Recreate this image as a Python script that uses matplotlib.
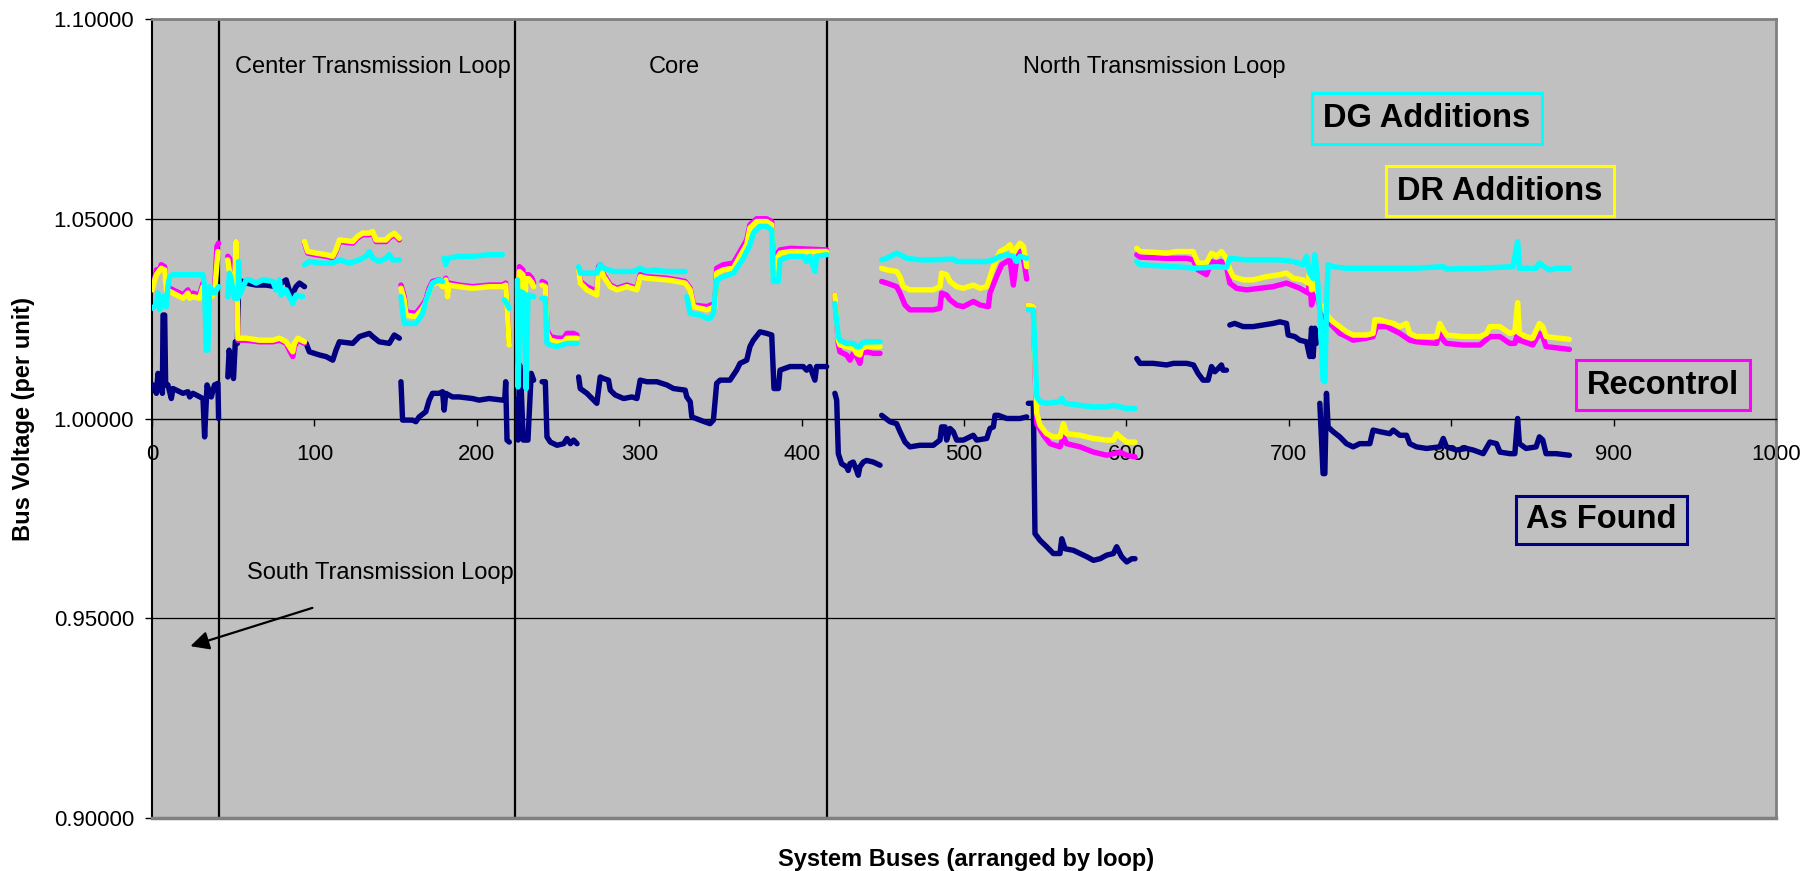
import numpy as np
import matplotlib
matplotlib.use("Agg")
import matplotlib.pyplot as plt
from matplotlib.patches import Rectangle

GAP = None

# ---------------- data (bus index, voltage p.u.) ----------------
as_found = [
    (0.6,1.0084),(2.7,1.0063),(3.7,1.0113),(4.7,1.0088),(5.7,1.0096),(6.4,1.0063),(6.8,1.0259),(7.8,1.0259),
    (8.4,1.0084),(9.8,1.0084),(11.9,1.0050),(12.9,1.0075),(17.0,1.0067),(19.1,1.0063),(22.1,1.0067),(23.2,1.0054),
    (25.2,1.0063),(31.4,1.0050),(32.4,0.9954),(33.9,1.0084),(36.5,1.0054),(38.5,1.0084),(40.6,1.0088),(41.0,1.0000),
    GAP,
    (46.7,1.0104),(47.5,1.0171),(50.2,1.0100),(51.3,1.0192),(52.6,1.0188),(53.3,1.0347),(58.0,1.0339),(64.1,1.0334),
    (70.3,1.0334),(76.4,1.0330),(82.6,1.0347),(85.7,1.0305),(88.7,1.0330),(90.8,1.0339),(93.9,1.0330),
    GAP,
    (94.9,1.0188),(96.9,1.0167),(103.1,1.0159),(107.2,1.0155),(111.3,1.0146),(113.3,1.0171),(115.4,1.0192),
    (123.6,1.0188),(127.7,1.0205),(133.8,1.0213),(135.9,1.0205),(139.9,1.0192),(146.1,1.0188),(149.2,1.0209),(152.3,1.0201),
    GAP,
    (153.3,1.0092),(154.3,0.9996),(160.5,0.9996),(162.5,0.9992),(164.5,1.0004),(168.6,1.0017),(170.7,1.0046),
    (172.7,1.0063),(176.8,1.0063),(178.9,1.0067),(179.9,1.0021),(180.9,1.0063),(185.0,1.0054),(189.1,1.0054),
    (197.3,1.0050),(201.4,1.0046),(207.6,1.0050),(215.8,1.0046),(217.2,1.0046),(217.8,1.0092),(218.6,0.9946),(220.0,0.9941),
    GAP,
    (225.0,1.0046),(225.4,0.9946),(226.4,1.0134),(227.3,1.0079),(228.6,0.9946),(231.5,0.9946),(233.5,1.0113),(235.0,1.0096),
    GAP,
    (240.2,1.0092),(242.2,1.0092),(243.2,0.9954),(245.3,0.9941),(249.4,0.9933),(253.5,0.9937),(255.5,0.9950),
    (257.6,0.9937),(259.6,0.9946),(261.7,0.9937),
    GAP,
    (262.7,1.0104),(263.7,1.0075),(267.8,1.0063),(271.9,1.0046),(273.9,1.0038),(276.0,1.0104),(278.1,1.0100),
    (281.1,1.0096),(282.2,1.0071),(285.2,1.0059),(290.4,1.0050),(295.5,1.0054),(298.6,1.0050),(300.6,1.0096),
    (304.7,1.0092),(310.9,1.0092),(317.0,1.0084),(321.1,1.0075),(328.3,1.0071),(329.3,1.0054),(331.4,1.0042),
    (332.4,1.0004),(337.5,0.9996),(343.6,0.9987),(345.7,0.9996),(347.7,1.0088),(349.8,1.0096),(355.9,1.0096),
    (360.0,1.0121),(362.1,1.0138),(366.2,1.0146),(368.2,1.0180),(370.3,1.0196),(374.4,1.0217),(378.5,1.0213),
    (381.6,1.0209),(383.0,1.0075),(385.7,1.0075),(386.7,1.0121),(392.8,1.0130),(401.0,1.0130),(403.1,1.0121),
    (405.1,1.0130),(408.2,1.0096),(409.2,1.0130),(415.4,1.0130),
    GAP,
    (420.5,1.0063),(421.6,1.0046),(422.6,0.9912),(424.6,0.9887),(427.7,0.9879),(428.7,0.9870),(429.8,0.9887),
    (431.8,0.9891),(433.9,0.9870),(434.9,0.9858),(435.9,0.9879),(438.0,0.9891),(440.0,0.9895),(444.1,0.9891),(448.3,0.9883),
    GAP,
    (449.3,1.0008),(454.4,0.9992),(458.5,0.9987),(460.6,0.9967),(463.7,0.9941),(466.7,0.9929),(472.9,0.9933),
    (481.1,0.9933),(485.2,0.9946),(486.2,0.9979),(488.3,0.9979),(489.3,0.9946),(491.4,0.9975),(493.4,0.9967),
    (495.5,0.9946),(499.6,0.9946),(503.7,0.9954),(505.7,0.9958),(507.8,0.9946),(514.0,0.9950),(516.0,0.9975),
    (518.1,0.9979),(519.1,1.0008),(521.1,1.0008),(526.3,1.0000),(534.5,1.0000),(538.6,1.0004),
    GAP,
    (539.6,1.0038),(542.7,1.0038),(543.7,0.9712),(546.8,0.9695),(550.9,0.9679),(555.0,0.9662),(559.1,0.9662),
    (560.2,0.9699),(562.2,0.9674),(567.4,0.9670),(575.6,0.9654),(579.7,0.9645),(583.8,0.9649),(587.9,0.9658),
    (592.0,0.9662),(594.0,0.9679),(597.1,0.9654),(600.2,0.9641),(603.3,0.9649),(605.3,0.9649),
    GAP,
    (606.4,1.0150),(608.4,1.0138),(616.6,1.0138),(624.8,1.0134),(629.0,1.0138),(637.2,1.0138),(641.3,1.0134),
    (644.1,1.0113),(647.2,1.0096),(650.3,1.0096),(652.4,1.0130),(654.4,1.0117),(656.5,1.0125),(658.5,1.0134),
    (659.5,1.0121),(661.6,1.0121),
    GAP,
    (663.7,1.0234),(666.7,1.0238),(671.9,1.0230),(678.0,1.0230),(684.2,1.0234),(690.3,1.0238),(694.5,1.0242),
    (698.6,1.0238),(699.6,1.0209),(703.7,1.0205),(706.8,1.0196),(710.9,1.0192),(712.9,1.0155),(714.0,1.0226),
    (715.0,1.0155),(716.0,1.0226),(717.0,1.0188),
    GAP,
    (719.1,1.0038),(721.1,0.9862),(722.2,0.9862),(723.2,1.0063),(724.2,0.9979),(727.3,0.9967),(731.4,0.9954),
    (735.5,0.9937),(739.6,0.9929),(743.7,0.9937),(749.9,0.9937),(751.9,0.9971),(756.1,0.9967),(762.2,0.9962),
    (764.3,0.9971),(768.4,0.9958),(772.5,0.9958),(774.5,0.9937),(778.6,0.9929),(784.8,0.9925),(793.0,0.9929),
    (795.1,0.9950),(797.1,0.9929),(803.3,0.9921),(809.4,0.9925),(813.6,0.9921),(819.7,0.9912),(823.8,0.9941),
    (827.9,0.9937),(830.0,0.9916),(836.1,0.9912),(839.2,0.9912),(840.9,1.0000),(842.0,0.9937),(846.1,0.9925),
    (852.3,0.9929),(854.3,0.9954),(856.4,0.9946),(858.4,0.9912),(864.6,0.9912),(872.8,0.9908),
]

recontrol = [
    (0.0,1.0330),(1.6,1.0347),(2.7,1.0372),(4.7,1.0372),(5.7,1.0385),(7.8,1.0380),(8.8,1.0330),(10.9,1.0326),
    (12.9,1.0322),(17.0,1.0314),(19.1,1.0309),(22.1,1.0322),(23.2,1.0309),(25.2,1.0314),(29.3,1.0309),(31.4,1.0339),
    (33.4,1.0322),(36.5,1.0314),(38.5,1.0322),(40.0,1.0431),(41.0,1.0439),
    GAP,
    (46.7,1.0406),(47.7,1.0401),(48.8,1.0380),(49.8,1.0330),(50.8,1.0330),(51.8,1.0443),(52.9,1.0196),(58.0,1.0196),
    (66.2,1.0192),(74.4,1.0192),(78.5,1.0196),(82.6,1.0188),(84.6,1.0171),(86.7,1.0155),(87.7,1.0180),(89.8,1.0196),(93.9,1.0188),
    GAP,
    (93.9,1.0439),(95.9,1.0414),(101.0,1.0410),(107.2,1.0406),(111.3,1.0402),(113.3,1.0418),(115.4,1.0443),
    (123.6,1.0439),(126.6,1.0452),(129.7,1.0460),(133.8,1.0460),(135.9,1.0464),(137.9,1.0443),(144.1,1.0443),
    (146.1,1.0452),(149.2,1.0460),(152.3,1.0447),
    GAP,
    (153.3,1.0334),(155.3,1.0305),(156.4,1.0267),(162.5,1.0263),(166.6,1.0284),(168.6,1.0297),(170.7,1.0326),
    (172.7,1.0343),(176.8,1.0347),(178.9,1.0334),(180.9,1.0351),(182.0,1.0309),(183.0,1.0339),(189.1,1.0334),
    (197.3,1.0330),(207.6,1.0334),(215.8,1.0334),(217.8,1.0339),(218.9,1.0263),(219.9,1.0188),
    GAP,
    (225.5,1.0309),(226.2,1.0380),(228.4,1.0372),(229.4,1.0301),(230.4,1.0360),(232.0,1.0360),(234.0,1.0351),(235.0,1.0339),
    GAP,
    (240.2,1.0343),(242.2,1.0339),(243.2,1.0222),(245.3,1.0205),(249.4,1.0201),(253.5,1.0201),(255.5,1.0213),
    (259.6,1.0213),(261.7,1.0209),
    GAP,
    (262.7,1.0376),(263.7,1.0343),(267.8,1.0330),(273.9,1.0318),(275.0,1.0380),(276.0,1.0385),(278.1,1.0360),
    (282.2,1.0334),(286.3,1.0326),(292.4,1.0334),(298.6,1.0326),(300.6,1.0360),(304.7,1.0355),(317.0,1.0351),
    (323.2,1.0347),(328.3,1.0343),(331.4,1.0326),(333.4,1.0284),(341.6,1.0280),(346.7,1.0288),(347.7,1.0376),
    (351.8,1.0385),(358.0,1.0389),(362.1,1.0418),(366.2,1.0447),(368.2,1.0485),(372.3,1.0500),(378.5,1.0500),
    (381.6,1.0493),(382.6,1.0364),(384.6,1.0410),(386.7,1.0422),(392.8,1.0426),(415.4,1.0422),
    GAP,
    (420.5,1.0309),(422.6,1.0188),(423.6,1.0167),(427.7,1.0159),(429.8,1.0146),(431.8,1.0163),(433.9,1.0155),
    (435.9,1.0138),(437.0,1.0163),(440.0,1.0167),(444.1,1.0163),(448.3,1.0163),
    GAP,
    (449.3,1.0343),(452.4,1.0339),(458.5,1.0330),(460.6,1.0314),(463.7,1.0284),(466.7,1.0272),(481.1,1.0272),
    (485.2,1.0276),(486.2,1.0314),(489.3,1.0309),(491.4,1.0297),(495.5,1.0284),(499.6,1.0280),(505.7,1.0293),
    (509.9,1.0284),(515.0,1.0280),(516.0,1.0314),(520.1,1.0356),(523.2,1.0385),(526.3,1.0393),(528.3,1.0397),
    (530.4,1.0334),(532.4,1.0397),(534.5,1.0418),(536.6,1.0401),(538.6,1.0349),
    GAP,
    (539.6,1.0284),(542.7,1.0280),(544.8,0.9987),(548.9,0.9958),(553.0,0.9937),(559.1,0.9929),(561.2,0.9954),
    (563.2,0.9937),(571.5,0.9929),(579.7,0.9916),(587.9,0.9908),(596.1,0.9916),(600.2,0.9908),(605.3,0.9904),
    GAP,
    (606.4,1.0410),(608.4,1.0404),(624.8,1.0401),(637.2,1.0401),(641.1,1.0397),(644.1,1.0372),(649.3,1.0360),
    (652.4,1.0393),(655.4,1.0389),(658.5,1.0393),(661.6,1.0380),(663.7,1.0339),(667.8,1.0326),(673.9,1.0322),
    (682.1,1.0326),(690.3,1.0330),(698.6,1.0339),(706.8,1.0326),(711.9,1.0314),(712.9,1.0347),(714.0,1.0284),
    (716.0,1.0314),(718.1,1.0297),
    (719.1,1.0280),(720.1,1.0280),(723.2,1.0247),(727.3,1.0230),(731.4,1.0213),(735.5,1.0205),(739.6,1.0196),
    (747.8,1.0201),(751.9,1.0205),(754.0,1.0230),(760.2,1.0230),(768.4,1.0213),(774.5,1.0196),(778.6,1.0192),
    (791.0,1.0188),(793.0,1.0217),(795.1,1.0196),(797.1,1.0188),(807.4,1.0184),(817.7,1.0184),(823.8,1.0205),
    (830.0,1.0205),(836.1,1.0188),(839.2,1.0188),(840.9,1.0213),(842.0,1.0196),(850.2,1.0184),(854.3,1.0213),
    (856.4,1.0205),(858.4,1.0180),(866.7,1.0176),(872.8,1.0173),
]

dr_additions = [
    (0.0,1.0322),(2.7,1.0360),(5.7,1.0376),(7.8,1.0372),(8.8,1.0322),(12.9,1.0314),(19.1,1.0301),(22.1,1.0314),
    (23.2,1.0301),(25.2,1.0305),(29.3,1.0301),(31.4,1.0330),(33.4,1.0314),(36.5,1.0305),(38.5,1.0314),(40.6,1.0418),
    GAP,
    (46.7,1.0397),(47.7,1.0368),(48.8,1.0347),(49.8,1.0322),(50.8,1.0322),(51.8,1.0443),(52.9,1.0201),(58.0,1.0201),
    (66.2,1.0196),(74.4,1.0196),(78.5,1.0201),(82.6,1.0192),(84.6,1.0180),(86.7,1.0167),(87.7,1.0188),(89.8,1.0201),(93.9,1.0192),
    GAP,
    (93.9,1.0443),(95.9,1.0418),(101.0,1.0414),(107.2,1.0410),(111.3,1.0406),(113.3,1.0422),(115.4,1.0447),
    (123.6,1.0443),(126.6,1.0456),(129.7,1.0464),(133.8,1.0464),(135.9,1.0468),(137.9,1.0447),(144.1,1.0447),
    (146.1,1.0456),(149.2,1.0464),(152.3,1.0451),
    GAP,
    (153.3,1.0326),(155.3,1.0297),(156.4,1.0259),(162.5,1.0255),(166.6,1.0276),(168.6,1.0290),(170.7,1.0318),
    (172.7,1.0336),(176.8,1.0342),(178.9,1.0330),(180.9,1.0347),(182.0,1.0305),(183.0,1.0334),(189.1,1.0330),
    (197.3,1.0326),(207.6,1.0330),(215.8,1.0330),(217.8,1.0334),(218.9,1.0259),(219.9,1.0184),
    GAP,
    (225.5,1.0300),(226.2,1.0368),(228.4,1.0360),(229.4,1.0290),(230.4,1.0350),(232.0,1.0350),(234.0,1.0340),(235.0,1.0330),
    GAP,
    (240.2,1.0334),(242.2,1.0330),(243.2,1.0213),(245.3,1.0196),(249.4,1.0192),(253.5,1.0192),(255.5,1.0201),
    (259.6,1.0201),(261.7,1.0201),
    GAP,
    (262.7,1.0372),(263.7,1.0339),(267.8,1.0322),(273.9,1.0309),(275.0,1.0372),(276.0,1.0380),(278.1,1.0355),
    (282.2,1.0330),(286.3,1.0322),(292.4,1.0330),(298.6,1.0322),(300.6,1.0355),(304.7,1.0351),(317.0,1.0347),
    (323.2,1.0343),(328.3,1.0339),(331.4,1.0322),(333.4,1.0280),(341.6,1.0272),(346.7,1.0280),(347.7,1.0364),
    (351.8,1.0372),(358.0,1.0376),(362.1,1.0406),(366.2,1.0435),(368.2,1.0477),(372.3,1.0493),(378.5,1.0493),
    (381.6,1.0485),(382.6,1.0355),(384.6,1.0397),(386.7,1.0414),(392.8,1.0418),(415.4,1.0418),
    GAP,
    (420.5,1.0309),(422.6,1.0196),(423.6,1.0184),(427.7,1.0180),(431.8,1.0176),(433.9,1.0163),(435.9,1.0159),
    (437.0,1.0176),(440.0,1.0180),(448.3,1.0180),
    GAP,
    (449.3,1.0376),(452.4,1.0372),(458.5,1.0368),(460.6,1.0355),(462.6,1.0330),(466.7,1.0322),(481.1,1.0322),
    (485.2,1.0330),(486.2,1.0364),(489.3,1.0360),(491.4,1.0343),(495.5,1.0330),(499.6,1.0326),(505.7,1.0334),
    (509.9,1.0326),(514.0,1.0330),(518.1,1.0380),(522.2,1.0418),(526.3,1.0427),(528.3,1.0435),(530.4,1.0414),
    (532.4,1.0427),(534.5,1.0439),(536.6,1.0431),(538.6,1.0380),
    GAP,
    (539.6,1.0284),(542.7,1.0280),(544.8,1.0013),(546.8,0.9983),(550.9,0.9962),(555.0,0.9954),(559.1,0.9954),
    (561.2,0.9987),(563.2,0.9962),(571.5,0.9958),(579.7,0.9950),(587.9,0.9946),(592.0,0.9946),(594.0,0.9962),
    (596.1,0.9954),(600.2,0.9941),(605.3,0.9941),
    GAP,
    (606.4,1.0426),(608.4,1.0418),(616.6,1.0416),(624.8,1.0414),(631.0,1.0418),(641.1,1.0418),(644.1,1.0389),
    (649.3,1.0389),(652.4,1.0414),(655.4,1.0406),(658.5,1.0418),(661.6,1.0401),(663.7,1.0372),(665.7,1.0355),
    (671.9,1.0347),(678.0,1.0347),(686.2,1.0355),(694.5,1.0360),(698.6,1.0364),(702.7,1.0351),(708.8,1.0347),
    (711.9,1.0339),(712.9,1.0372),(714.0,1.0322),(715.0,1.0347),(716.0,1.0330),(718.1,1.0314),
    (719.1,1.0284),(721.1,1.0280),(723.2,1.0263),(724.2,1.0255),(727.3,1.0242),(731.4,1.0230),(735.5,1.0217),
    (739.6,1.0209),(747.8,1.0209),(751.9,1.0213),(753.0,1.0247),(756.1,1.0247),(760.2,1.0242),(764.3,1.0238),
    (768.4,1.0230),(772.5,1.0238),(774.5,1.0213),(778.6,1.0205),(791.0,1.0205),(793.0,1.0238),(795.1,1.0222),
    (797.1,1.0209),(807.4,1.0205),(817.7,1.0205),(821.8,1.0213),(823.8,1.0230),(830.0,1.0230),(836.1,1.0213),
    (839.2,1.0217),(840.9,1.0290),(842.0,1.0213),(846.1,1.0205),(850.2,1.0201),(854.3,1.0238),(856.4,1.0230),
    (858.4,1.0205),(866.7,1.0201),(872.8,1.0198),
]

dg_additions = [
    (0.0,1.0276),(2.7,1.0284),(3.7,1.0314),(4.7,1.0272),(6.8,1.0305),(8.8,1.0280),(9.8,1.0330),(10.9,1.0355),
    (12.9,1.0360),(31.4,1.0360),(32.4,1.0330),(33.4,1.0171),(34.4,1.0171),(35.5,1.0330),(38.5,1.0314),(41.0,1.0330),
    GAP,
    (46.7,1.0305),(47.7,1.0364),(48.8,1.0347),(50.8,1.0301),(53.0,1.0301),(53.3,1.0393),(53.9,1.0309),(58.0,1.0347),
    (60.0,1.0347),(64.1,1.0339),(68.2,1.0347),(74.4,1.0343),(76.4,1.0322),(78.5,1.0347),(79.5,1.0309),(82.6,1.0322),
    (84.6,1.0305),(86.7,1.0288),(88.7,1.0309),(92.8,1.0305),
    GAP,
    (93.9,1.0385),(96.9,1.0393),(103.1,1.0389),(111.3,1.0389),(115.4,1.0397),(121.5,1.0389),(127.7,1.0397),
    (131.8,1.0406),(133.8,1.0418),(135.9,1.0401),(139.9,1.0393),(144.1,1.0401),(146.1,1.0410),(148.2,1.0397),(152.3,1.0397),
    GAP,
    (153.3,1.0305),(155.3,1.0238),(162.5,1.0238),(166.6,1.0263),(168.6,1.0293),(170.7,1.0318),(172.7,1.0339),
    (176.8,1.0347),(178.9,1.0343),
    GAP,
    (179.9,1.0401),(180.9,1.0385),(182.0,1.0401),(189.1,1.0406),(197.3,1.0406),(207.6,1.0410),(215.8,1.0410),
    GAP,
    (216.8,1.0297),(217.8,1.0293),(219.9,1.0276),
    GAP,
    (225.0,1.0347),(225.4,1.0079),(226.8,1.0318),(228.9,1.0314),(230.4,1.0075),(231.5,1.0309),(235.0,1.0305),
    GAP,
    (240.2,1.0301),(242.2,1.0301),(243.2,1.0188),(245.3,1.0184),(249.4,1.0180),(255.5,1.0188),(261.7,1.0188),
    GAP,
    (262.7,1.0380),(263.7,1.0364),(273.9,1.0364),(276.0,1.0385),(278.1,1.0376),(284.2,1.0368),(296.5,1.0368),
    (300.6,1.0376),(304.7,1.0368),(308.8,1.0372),(317.0,1.0368),(328.3,1.0368),
    GAP,
    (329.3,1.0305),(331.4,1.0263),(337.5,1.0259),(341.6,1.0251),(343.6,1.0251),(345.7,1.0263),(347.7,1.0347),
    (351.8,1.0355),(358.0,1.0364),(360.0,1.0376),(364.1,1.0401),(368.2,1.0435),(370.3,1.0464),(374.4,1.0481),
    (378.5,1.0481),(381.6,1.0472),(382.6,1.0343),(385.7,1.0343),(386.7,1.0397),(392.8,1.0406),(401.0,1.0406),
    (403.1,1.0393),(405.1,1.0406),(408.2,1.0368),(409.2,1.0406),(415.4,1.0410),
    GAP,
    (420.5,1.0288),(422.6,1.0205),(423.6,1.0196),(427.7,1.0188),(431.8,1.0188),(433.9,1.0180),(435.9,1.0180),
    (437.0,1.0188),(440.0,1.0192),(448.3,1.0192),
    GAP,
    (449.3,1.0397),(452.4,1.0401),(458.5,1.0414),(460.6,1.0410),(464.7,1.0401),(472.9,1.0397),(481.1,1.0397),
    (493.4,1.0399),(495.5,1.0393),(503.7,1.0393),(514.0,1.0393),(518.1,1.0397),(522.2,1.0406),(526.3,1.0410),
    (530.4,1.0406),(532.4,1.0393),(534.5,1.0406),(538.6,1.0401),
    GAP,
    (539.6,1.0272),(542.7,1.0272),(544.8,1.0054),(546.8,1.0042),(550.9,1.0038),(559.1,1.0042),(560.2,1.0050),
    (562.2,1.0038),(571.5,1.0033),(579.7,1.0029),(587.9,1.0029),(592.0,1.0033),(596.1,1.0029),(600.2,1.0025),(605.3,1.0025),
    GAP,
    (606.4,1.0393),(608.4,1.0385),(616.6,1.0383),(629.0,1.0380),(637.2,1.0378),(641.1,1.0376),(649.3,1.0378),
    (655.4,1.0380),(661.6,1.0378),(663.7,1.0401),(673.9,1.0397),(686.2,1.0397),(694.5,1.0397),(702.7,1.0393),
    (708.8,1.0385),(710.9,1.0406),(712.9,1.0364),(715.0,1.0351),(716.0,1.0410),(717.0,1.0380),
    (719.1,1.0272),(721.1,1.0096),(722.2,1.0092),(723.2,1.0280),(724.2,1.0385),(727.3,1.0380),(735.5,1.0376),
    (756.1,1.0376),(776.6,1.0376),(795.1,1.0380),(797.1,1.0374),(817.7,1.0376),(838.0,1.0380),(840.9,1.0443),
    (842.0,1.0376),(852.3,1.0376),(854.3,1.0389),(857.4,1.0380),(860.5,1.0372),(864.6,1.0376),(872.8,1.0376),
]

series_names = ["As Found", "Recontrol", "DR Additions", "DG Additions"]
series_colors = ["#000080", "#FF00FF", "#FFFF00", "#00FFFF"]
loop_boundaries = [41.3, 223.7, 415.5]
loop_labels = ["Center Transmission Loop", "Core", "North Transmission Loop"]
x_ticks = [0, 100, 200, 300, 400, 500, 600, 700, 800, 900, 1000]
y_ticks = [0.90, 0.95, 1.00, 1.05, 1.10]


def to_xy(points):
    xs, ys = [], []
    for p in points:
        if p is None:
            xs.append(np.nan); ys.append(np.nan)
        else:
            xs.append(p[0]); ys.append(p[1])
    return np.array(xs), np.array(ys)


plt.rcParams['font.family'] = ['Liberation Sans', 'DejaVu Sans']
W, H = 1816, 871
fig = plt.figure(figsize=(W / 100, H / 100), dpi=100)
fig.patch.set_facecolor('white')
ax = fig.add_axes([152 / W, 1 - 818 / H, (1776 - 152) / W, (818 - 19) / H])
ax.set_facecolor('#C0C0C0')
ax.set_xlim(0, 1000)
ax.set_ylim(0.9, 1.1)

# grid lines
for yv in [0.95, 1.05]:
    ax.axhline(yv, color='black', lw=0.9, zorder=1)
for xb in loop_boundaries:
    ax.axvline(xb, color='black', lw=1.6, zorder=2)

for data, col in zip([as_found, recontrol, dr_additions, dg_additions], series_colors):
    xs, ys = to_xy(data)
    ax.plot(xs, ys, color=col, lw=3.9, solid_capstyle='round', solid_joinstyle='round', zorder=3)

# spines
ax.spines['bottom'].set_position(('data', 1.0))
ax.spines['bottom'].set_color('black')
ax.spines['bottom'].set_linewidth(1.0)
ax.spines['bottom'].set_zorder(2.5)
ax.spines['left'].set_color('black')
ax.spines['left'].set_linewidth(1.5)
for s in ['top', 'right']:
    ax.spines[s].set_color('#808080')
    ax.spines[s].set_linewidth(2.0)
ax.plot([0, 1], [0, 0], transform=ax.transAxes, color='#808080', lw=2.5, clip_on=False, zorder=5)

ax.set_xticks(x_ticks)
ax.set_xticklabels([str(t) for t in x_ticks])
ax.set_yticks(y_ticks)
ax.set_yticklabels(["%.5f" % v for v in y_ticks])
ax.tick_params(axis='x', direction='out', length=5, width=1, pad=13.5, labelsize=16, colors='black')
ax.tick_params(axis='y', direction='out', length=5, width=1, pad=8, labelsize=16, colors='black')

# region labels
label_pos = [(136.0, 1.0880), (321.5, 1.0880), (617.0, 1.0880)]
for (bx, vy), txt in zip(label_pos, loop_labels):
    ax.text(bx, vy, txt, ha='center', va='center', fontsize=17, zorder=6)
ax.text(140.4, 0.9613, "South Transmission Loop", ha='center', va='center', fontsize=17, zorder=6)
ax.annotate("", xy=(22.0, 0.9428), xytext=(100.4, 0.9528),
            arrowprops=dict(arrowstyle='-|>', color='black', lw=1.6, mutation_scale=28), zorder=6)

# series label boxes (pixel boxes: x0, y0, x1, y1)
boxes = [
    ("DG Additions", (1311.7, 93, 1542, 144)),
    ("DR Additions", (1385.7, 166, 1614, 216)),
    ("Recontrol", (1576, 360, 1750, 410)),
    ("As Found", (1515.7, 496, 1687, 544)),
]
box_colors = {"As Found": "#000080", "Recontrol": "#FF00FF", "DR Additions": "#FFFF00", "DG Additions": "#00FFFF"}
for name, (x0, y0, x1, y1) in boxes:
    rect = Rectangle((x0 / W, 1 - y1 / H), (x1 - x0) / W, (y1 - y0) / H, transform=fig.transFigure,
                     facecolor='#C0C0C0', edgecolor=box_colors[name], lw=2.2, zorder=7)
    fig.add_artist(rect)
    fig.text((x0 + x1) / 2 / W, 1 - (y0 + y1) / 2 / H, name, ha='center', va='center',
             fontsize=23.5, fontweight='bold', zorder=8)

fig.text(24 / W, 1 - 419 / H, "Bus Voltage (per unit)", rotation=90, ha='center', va='center',
         fontsize=17, fontweight='bold')
fig.text(966 / W, 1 - 859 / H, "System Buses (arranged by loop)", ha='center', va='center',
         fontsize=17, fontweight='bold')

fig.savefig("out.png", dpi=100)
